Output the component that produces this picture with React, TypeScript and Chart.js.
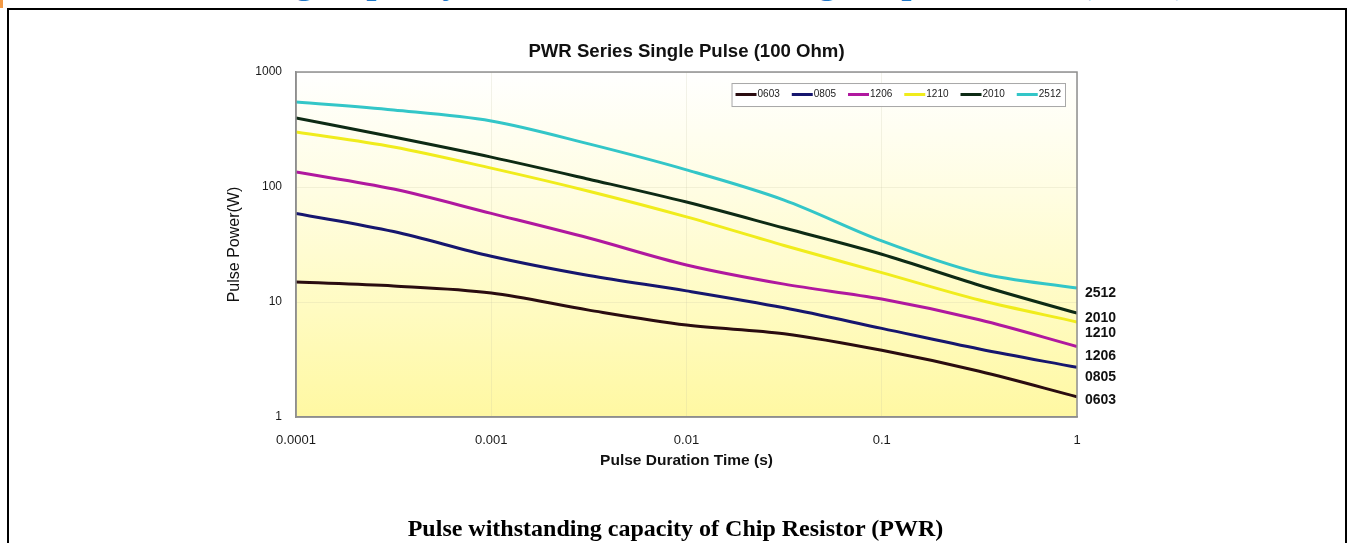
import React, { useEffect, useRef } from "react";
import { Chart, registerables } from "chart.js";

Chart.register(...registerables);

// ---- data ----
const durations = [0.0001, 0.000316, 0.001, 0.00316, 0.01, 0.0316, 0.1, 0.316, 1];
const p0603 = [14.9, 13.8, 12.0, 8.5, 6.3, 5.3, 3.8, 2.5, 1.5];
const p0805 = [59, 41, 25, 17, 12.5, 8.9, 5.9, 3.9, 2.7];
const p1206 = [135, 96, 59, 36, 21, 14.3, 10.6, 7.0, 4.1];
const p1210 = [301, 223, 146, 92, 55, 31, 18, 10.4, 6.7];
const p2010 = [398, 272, 182, 117, 74, 44, 26, 14, 8.0];
const p2512 = [548, 467, 375, 237, 141, 77, 34, 17.9, 13.2];

const seriesNames = ["0603", "0805", "1206", "1210", "2010", "2512"];
const seriesValues = [p0603, p0805, p1206, p1210, p2010, p2512];
const seriesColors = ["#2a0c10", "#16166e", "#b0189f", "#f0ec1c", "#0d2a14", "#33c6c8"];

const xTickValues = [0.0001, 0.001, 0.01, 0.1, 1];
const xTickLabels = ["0.0001", "0.001", "0.01", "0.1", "1"];
const yTickValues = [1, 10, 100, 1000];
const yTickLabels = ["1", "10", "100", "1000"];

const sideLabels = ["2512", "2010", "1210", "1206", "0805", "0603"];
const sideLabelLevels = [12, 7.3, 5.4, 3.4, 2.23, 1.41];

const chartTitle = "PWR Series Single Pulse (100 Ohm)";
const xTitle = "Pulse Duration Time (s)";
const yTitle = "Pulse Power(W)";
const caption = "Pulse withstanding capacity of Chip Resistor (PWR)";
const heading = "Power Handling Capacity and Pulse Withstanding Chip Resistors (PWR)";

const SANS = '"Liberation Sans", Arial, sans-serif';
const SERIF = '"Liberation Serif", "Times New Roman", serif';

const bgPlugin = {
  id: "plotBg",
  beforeDraw(chart: any) {
    const { ctx, chartArea: ca } = chart;
    if (!ca) return;
    const g = ctx.createLinearGradient(0, ca.top, 0, ca.bottom);
    g.addColorStop(0, "#ffffff");
    g.addColorStop(0.35, "#fffde2");
    g.addColorStop(0.7, "#fffbc0");
    g.addColorStop(1, "#fff8a2");
    ctx.save();
    ctx.fillStyle = g;
    ctx.fillRect(ca.left, ca.top, ca.right - ca.left, ca.bottom - ca.top);
    ctx.restore();
  },
  afterDatasetsDraw(chart: any) {
    const { ctx, chartArea: ca } = chart;
    ctx.save();
    ctx.strokeStyle = "#8e8e8e";
    ctx.lineWidth = 1.5;
    ctx.strokeRect(ca.left, ca.top, ca.right - ca.left, ca.bottom - ca.top);
    ctx.restore();
  },
};

const legendPlugin = {
  id: "innerLegend",
  afterDraw(chart: any) {
    const { ctx, chartArea: ca } = chart;
    const ds = chart.data.datasets;
    ctx.save();
    ctx.font = `10px ${SANS}`;
    const lineLen = 21, gap = 1, spacing = 12, padX = 4, h = 23;
    const widths = ds.map((d: any) => ctx.measureText(d.label).width);
    let total = padX * 2 + spacing * (ds.length - 1);
    widths.forEach((w: number) => (total += lineLen + gap + w));
    const right = ca.right - 12;
    const left = right - total;
    const top = ca.top + 11;
    ctx.fillStyle = "rgba(255,255,255,0.9)";
    ctx.fillRect(left, top, total, h);
    ctx.strokeStyle = "#a8a8a8";
    ctx.lineWidth = 1;
    ctx.strokeRect(left + 0.5, top + 0.5, total, h);
    let x = left + padX;
    const y = top + h / 2;
    ds.forEach((d: any, i: number) => {
      ctx.strokeStyle = d.borderColor;
      ctx.lineWidth = 3;
      ctx.beginPath();
      ctx.moveTo(x, y);
      ctx.lineTo(x + lineLen, y);
      ctx.stroke();
      ctx.fillStyle = "#222";
      ctx.textBaseline = "middle";
      ctx.textAlign = "left";
      ctx.fillText(d.label, x + lineLen + gap, y);
      x += lineLen + gap + widths[i] + spacing;
    });
    ctx.restore();
  },
};

const sideLabelPlugin = {
  id: "sideLabels",
  afterDraw(chart: any) {
    const { ctx, chartArea: ca } = chart;
    const ys = chart.scales.y;
    ctx.save();
    ctx.font = `bold 14px ${SANS}`;
    ctx.fillStyle = "#111";
    ctx.textBaseline = "middle";
    ctx.textAlign = "left";
    sideLabels.forEach((t, i) => {
      ctx.fillText(t, ca.right + 8, ys.getPixelForValue(sideLabelLevels[i]));
    });
    ctx.restore();
  },
};

function PulseChart() {
  const ref = useRef<HTMLCanvasElement | null>(null);
  useEffect(() => {
    if (!ref.current) return;
    const chart = new Chart(ref.current, {
      type: "line",
      data: {
        datasets: seriesNames.map((name, i) => ({
          label: name,
          data: durations.map((d, j) => ({ x: d, y: seriesValues[i][j] })),
          borderColor: seriesColors[i],
          backgroundColor: seriesColors[i],
          borderWidth: 3,
          pointRadius: 0,
          cubicInterpolationMode: "monotone" as const,
          fill: false,
        })),
      },
      options: {
        animation: false,
        responsive: false,
        devicePixelRatio: 1,
        layout: { padding: { top: 41, left: 221, right: 274, bottom: 69 } },
        plugins: {
          legend: { display: false },
          tooltip: { enabled: false },
          title: {
            display: true,
            text: chartTitle,
            fullSize: false,
            color: "#111",
            font: { size: 18.6, weight: "bold", family: SANS },
            padding: { top: 0, bottom: 8.7 },
          },
        },
        scales: {
          x: {
            type: "logarithmic",
            min: 0.0001,
            max: 1,
            afterBuildTicks: (s: any) => {
              s.ticks = xTickValues.map((v) => ({ value: v }));
            },
            afterFit: (s: any) => {
              s.height = 57;
            },
            ticks: {
              autoSkip: false,
              maxRotation: 0,
              padding: 16,
              color: "#1a1a1a",
              font: { size: 13, family: SANS },
              callback: (_v: any, i: number) => xTickLabels[i],
            },
            grid: { color: "rgba(190,190,160,0.2)", drawTicks: false },
            border: { color: "#8e8e8e", width: 1.5 },
            title: {
              display: true,
              text: xTitle,
              color: "#111",
              font: { size: 15.5, weight: "bold", family: SANS },
              padding: { top: 4, bottom: 4 },
            },
          },
          y: {
            type: "logarithmic",
            min: 1,
            max: 1000,
            afterBuildTicks: (s: any) => {
              s.ticks = yTickValues.map((v) => ({ value: v }));
            },
            afterFit: (s: any) => {
              s.width = 75;
            },
            ticks: {
              autoSkip: false,
              padding: 14,
              color: "#1a1a1a",
              font: { size: 12, family: SANS },
              callback: (_v: any, i: number) => yTickLabels[i],
            },
            grid: { color: "rgba(190,190,160,0.2)", drawTicks: false },
            border: { color: "#8e8e8e", width: 1.5 },
            title: {
              display: true,
              text: yTitle,
              color: "#111",
              font: { size: 16, family: SANS },
              padding: { top: 4, bottom: 4 },
            },
          },
        },
      } as any,
      plugins: [bgPlugin, legendPlugin, sideLabelPlugin],
    });
    return () => chart.destroy();
  }, []);
  return (
    <canvas
      ref={ref}
      width={1351}
      height={543}
      style={{ position: "absolute", left: 0, top: 0, width: 1351, height: 543 }}
    />
  );
}

export default function App() {
  return (
    <div
      style={{
        position: "fixed",
        left: 0,
        top: 0,
        width: 1351,
        height: 543,
        overflow: "hidden",
        background: "#fff",
      }}
    >
      <div
        style={{
          position: "absolute",
          left: 63,
          top: -37,
          whiteSpace: "nowrap",
          fontFamily: SERIF,
          fontWeight: "bold",
          fontSize: 36,
          lineHeight: "36px",
          color: "#1f78c8",
        }}
      >
        {heading}
      </div>
      <div style={{ position: "absolute", left: 0, top: 0, width: 3, height: 8, background: "#f39a45" }} />
      <div
        style={{
          position: "absolute",
          left: 7,
          top: 8,
          width: 1340,
          height: 600,
          boxSizing: "border-box",
          border: "2px solid #000",
        }}
      />
      <PulseChart />
      <div
        style={{
          position: "absolute",
          left: 0,
          top: 515,
          width: 1351,
          textAlign: "center",
          fontFamily: SERIF,
          fontWeight: "bold",
          fontSize: 24,
          lineHeight: "26px",
          color: "#000",
        }}
      >
        {caption}
      </div>
    </div>
  );
}
